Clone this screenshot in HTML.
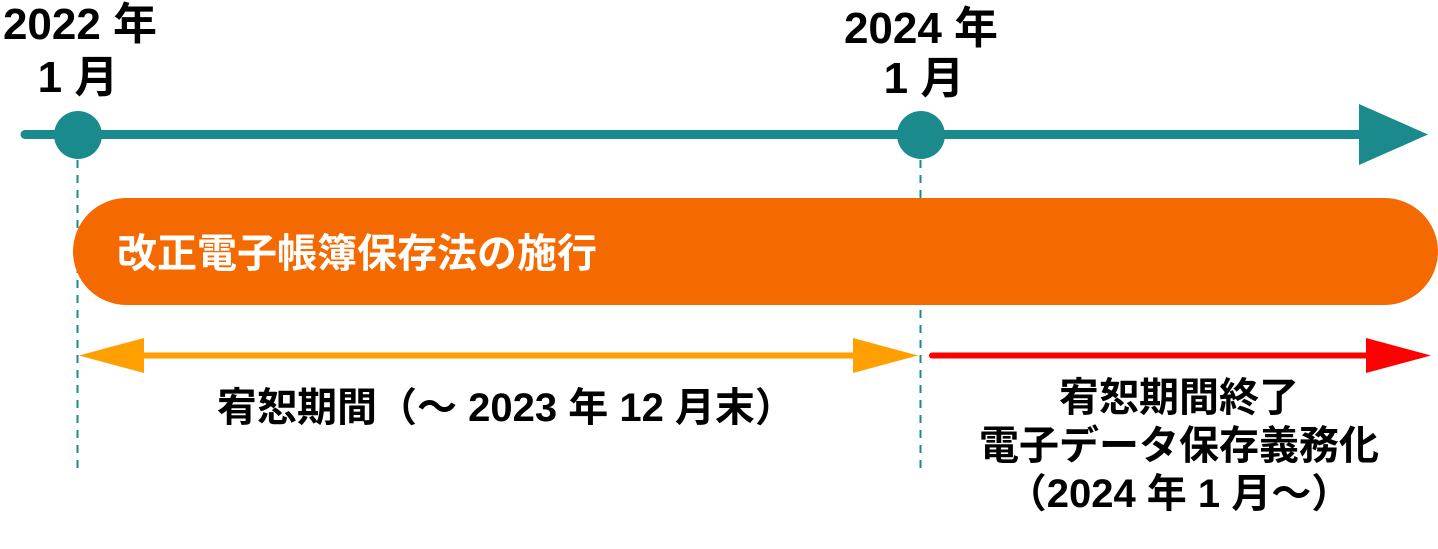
<!DOCTYPE html>
<html>
<head>
<meta charset="utf-8">
<style>
  html, body { margin: 0; padding: 0; background: #ffffff; }
  body { width: 1438px; height: 549px; overflow: hidden; }
  svg { display: block; }
  text { font-family: "Liberation Sans", "Noto Sans CJK JP", sans-serif; font-weight: bold; }
</style>
</head>
<body>
<svg width="1438" height="549" viewBox="0 0 1438 549" xmlns="http://www.w3.org/2000/svg">
  <!-- dashed guide lines -->
  <line x1="77.5" y1="160" x2="77.5" y2="468" stroke="#1B8A8C" stroke-width="2" stroke-dasharray="8 7"/>
  <line x1="920.5" y1="160" x2="920.5" y2="468" stroke="#1B8A8C" stroke-width="2" stroke-dasharray="8 7"/>

  <!-- timeline -->
  <line x1="25" y1="134.5" x2="1362" y2="134.5" stroke="#1B8A8C" stroke-width="9" stroke-linecap="round"/>
  <polygon points="1359,104 1428,134.5 1359,165" fill="#1B8A8C"/>
  <circle cx="78" cy="135" r="24" fill="#1B8A8C"/>
  <circle cx="921" cy="135" r="24" fill="#1B8A8C"/>

  <!-- orange bar -->
  <rect x="73" y="198" width="1365" height="107" rx="53.5" ry="53.5" fill="#F46A00"/>
  <text x="117" y="267" font-size="40" fill="#ffffff">改正電子帳簿保存法の施行</text>

  <!-- orange double arrow -->
  <line x1="140" y1="355.5" x2="858" y2="355.5" stroke="#FF9F00" stroke-width="6"/>
  <polygon points="79,355.5 144,338 144,373" fill="#FF9F00"/>
  <polygon points="918,355.5 853,338 853,373" fill="#FF9F00"/>

  <!-- red arrow -->
  <line x1="932" y1="355.5" x2="1370" y2="355.5" stroke="#FF0000" stroke-width="6" stroke-linecap="round"/>
  <polygon points="1366,338 1431,355.5 1366,373" fill="#FF0000"/>

  <!-- top labels -->
  <text x="80" y="39" font-size="44" fill="#000" text-anchor="middle">2022 年</text>
  <text x="78" y="92" font-size="44" fill="#000" text-anchor="middle">1 月</text>
  <text x="921" y="43" font-size="44" fill="#000" text-anchor="middle">2024 年</text>
  <text x="924" y="93" font-size="44" fill="#000" text-anchor="middle">1 月</text>

  <!-- bottom labels -->
  <text x="217" y="421" font-size="40" fill="#000">宥恕期間（～ 2023 年 12 月末）</text>

  <text x="1179" y="411" font-size="40" fill="#000" text-anchor="middle">宥恕期間終了</text>
  <text x="1179" y="459" font-size="40" fill="#000" text-anchor="middle">電子データ保存義務化</text>
  <text x="1179" y="507" font-size="40" fill="#000" text-anchor="middle">（2024 年 1 月～）</text>
</svg>
</body>
</html>
